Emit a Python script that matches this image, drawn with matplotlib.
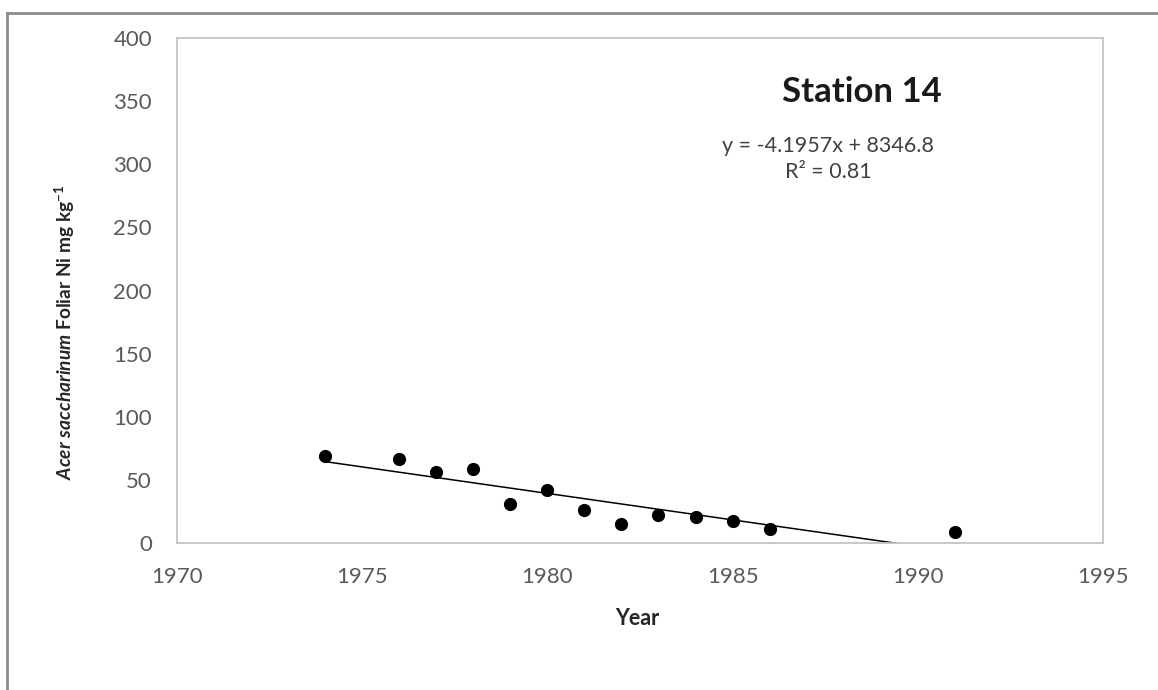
import numpy as np
import matplotlib.pyplot as plt
from matplotlib.lines import Line2D

# Foliar Ni in Acer saccharinum, station 14
years = [1974, 1976, 1977, 1978, 1979, 1980, 1981, 1982, 1983, 1984, 1985, 1986, 1991]
ni = [69, 66.5, 56, 59, 31, 42, 26, 15, 22.5, 21, 17.5, 11.5, 8.7]

# linear trendline coefficients
slope = -4.1957
intercept = 8346.8
r2 = 0.81

plt.rcParams['font.family'] = ['Lato', 'DejaVu Sans']
plt.rcParams['mathtext.fontset'] = 'custom'
plt.rcParams['mathtext.rm'] = 'Lato:bold'
plt.rcParams['mathtext.it'] = 'Lato:italic:bold'

fig = plt.figure(figsize=(11.58, 6.9), dpi=100)
ax = fig.add_axes([0.1528, 0.2130, 0.7997, 0.7319])

ax.scatter(years, ni, s=72, color='black', zorder=3, clip_on=False)

# trendline from min to max year, clipped at y = 0
xt = np.array([min(years), max(years)])
ax.plot(xt, slope * xt + intercept, color='black', lw=1.1, zorder=2)

ax.set_xlim(1970, 1995)
ax.set_ylim(0, 400)
ax.set_xticks(range(1970, 1996, 5))
ax.set_yticks(range(0, 401, 50))
ax.tick_params(length=0, labelsize=16, colors='#595959')
ax.tick_params(axis='x', pad=17)
ax.tick_params(axis='y', pad=18)
for s in ax.spines.values():
    s.set_color('#bfbfbf')
    s.set_linewidth(1.2)

ax.set_xlabel('Year', fontsize=15.5, fontweight='bold', color='#262626')
ax.xaxis.set_label_coords(0.497, -0.128)
ax.set_ylabel(r'$\mathit{Acer\ saccharinum}$ Foliar Ni mg kg$^{-1}$',
              fontsize=13.8, fontweight='bold', color='#262626')
ax.yaxis.set_label_coords(-0.108, 0.418)

ax.text(0.740, 0.893, 'Station 14', transform=ax.transAxes, fontsize=25,
        fontweight='bold', color='#1a1a1a', ha='center', va='center')
ax.text(0.703, 0.786, f'y = {slope}x + {intercept}', transform=ax.transAxes,
        fontsize=15.5, color='#404040', ha='center', va='center')
ax.text(0.703, 0.735, f'R\u00b2 = {r2}', transform=ax.transAxes,
        fontsize=15.5, color='#404040', ha='center', va='center')

# chart-area border (top and left edges)
fig.add_artist(Line2D([7 / 1158, 1], [1 - 13 / 690, 1 - 13 / 690],
                      transform=fig.transFigure, color='#8c8c8c', lw=2))
fig.add_artist(Line2D([7 / 1158, 7 / 1158], [0, 1 - 13 / 690],
                      transform=fig.transFigure, color='#8c8c8c', lw=2))

fig.savefig('out.png', dpi=100)
